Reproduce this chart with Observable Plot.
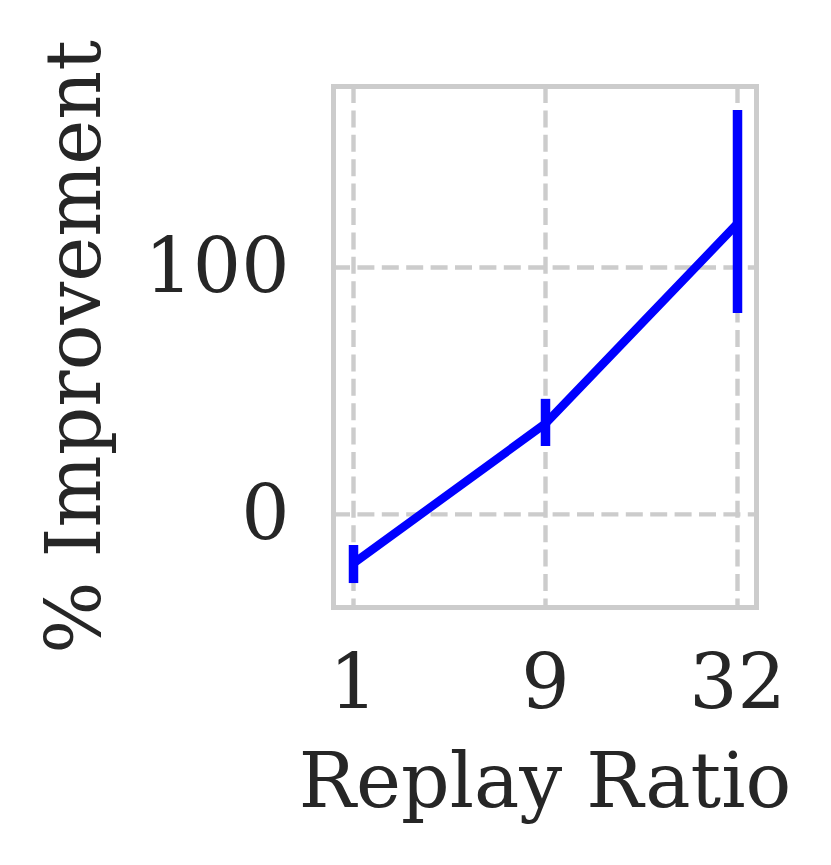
<!DOCTYPE html>
<html>
<head>
<meta charset="utf-8">
<script src="https://cdn.jsdelivr.net/npm/d3@7"></script>
<script src="https://cdn.jsdelivr.net/npm/@observablehq/plot@0.6"></script>
<style>
  html, body { margin: 0; padding: 0; background: #fff; }
</style>
</head>
<body>
<div id="chart"></div>
<script>
const ratios = ["1", "9", "32"];
const meanImprovement = [-19.8, 36.8, 117.8];
const lowImprovement = [-28.0, 27.5, 81.4];
const highImprovement = [-12.6, 46.6, 163.6];
const yTicks = [0, 100];
const xLabel = "Replay Ratio";
const yLabel = "% Improvement";

const rows = ratios.map((r, i) => ({
  ratio: r,
  mean: meanImprovement[i],
  lo: lowImprovement[i],
  hi: highImprovement[i]
}));

const font = "DejaVu Serif";
const fs = 76;
const grey = "#cccccc";
const ink = "#262626";

const chart = Plot.plot({
  width: 831,
  height: 865,
  marginLeft: 333,
  marginRight: 75,
  marginTop: 86,
  marginBottom: 258,
  style: { fontFamily: font, fontSize: fs + "px", color: ink, background: "#fff" },
  x: { type: "point", domain: ratios, padding: 0.1 },
  y: { domain: [-37.7, 173.3] },
  marks: [
    Plot.gridX(ratios, { stroke: grey, strokeOpacity: 1, strokeWidth: 4.4, strokeDasharray: "17,7.4" }),
    Plot.gridY(yTicks, { stroke: grey, strokeOpacity: 1, strokeWidth: 4.4, strokeDasharray: "17,7.4" }),
    Plot.frame({ stroke: grey, strokeWidth: 5 }),
    Plot.line(rows, { x: "ratio", y: "mean", stroke: "#0000ff", strokeWidth: 8.5 }),
    Plot.ruleX(rows, { x: "ratio", y1: "lo", y2: "hi", stroke: "#0000ff", strokeWidth: 9.5 }),
    Plot.axisX(ratios, { tickSize: 0, tickPadding: 47, label: null, fontSize: fs, fill: ink }),
    Plot.axisY(yTicks, { tickSize: 0, tickPadding: 44, label: null, fontSize: fs, fill: ink }),
    Plot.text([xLabel], { text: d => d, frameAnchor: "bottom", dy: 175, lineAnchor: "middle", fontSize: fs, fill: ink }),
    Plot.text([yLabel], { text: d => d, frameAnchor: "left", textAnchor: "middle", dx: -258, rotate: -90, lineAnchor: "middle", fontSize: fs, fill: ink })
  ]
});
document.getElementById("chart").appendChild(chart);
</script>
</body>
</html>
